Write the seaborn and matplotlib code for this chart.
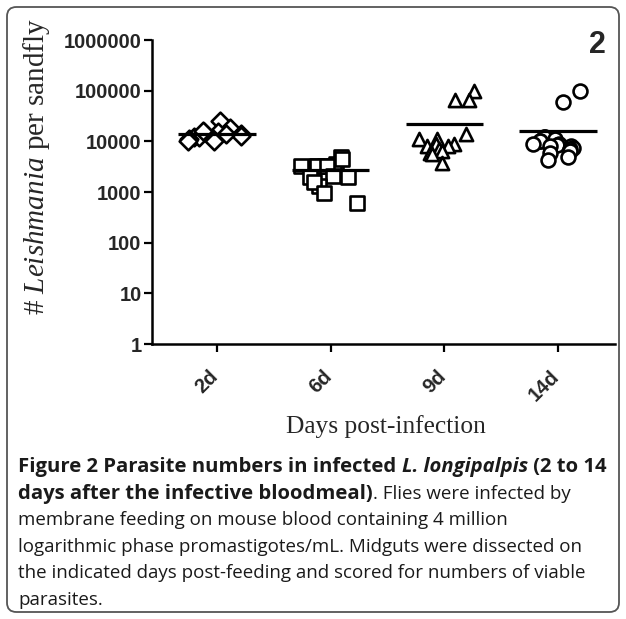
import numpy as np
import pandas as pd
import matplotlib
matplotlib.use("Agg")
import matplotlib.pyplot as plt
import matplotlib.transforms as mtransforms
import seaborn as sns
from matplotlib.patches import FancyBboxPatch

# ---- data ----
days = ["2d", "6d", "9d", "14d"]
d2 = [25000, 18000, 15000, 15000, 14000, 13000, 12000, 12000, 11000, 11000, 10000, 10000, 14000, 16000]
d6 = [5000, 3500, 3300, 3200, 3300, 3200, 3300, 4500, 3200, 2000, 2100, 2000, 1300, 1600, 950, 600]
d9 = [100000, 65000, 65000, 14000, 11000, 11000, 9000, 8000, 9000, 8000, 7000, 6500, 6000, 5500, 3800]
d14 = [100000, 60000, 12000, 12000, 11000, 10000, 10000, 9000, 9000, 8500, 8000, 8000, 7500, 7000,
       6500, 6000, 5000, 4200]
groups = [d2, d6, d9, d14]
markers = ["D", "s", "^", "o"]
yticks = [1, 10, 100, 1000, 10000, 100000, 1000000]
ytick_labels = ["1", "10", "100", "1000", "10000", "100000", "1000000"]

df = pd.concat([pd.DataFrame({"day": d, "count": g}) for d, g in zip(days, groups)], ignore_index=True)

sns.set_theme(style="white")
plt.rcParams["mathtext.fontset"] = "custom"
plt.rcParams["mathtext.rm"] = "Liberation Serif"
plt.rcParams["mathtext.it"] = "Liberation Serif:italic"

W, H = 626, 619
fig = plt.figure(figsize=(W / 100, H / 100), dpi=100)
ax = fig.add_axes([152 / W, 1 - 344 / H, (615 - 152) / W, (344 - 40) / H])
ax.set_yscale("log")

np.random.seed(3)
sizes = {"D": 9.0, "s": 9.5, "^": 9.5, "o": 10.0}
for d, m in zip(days, markers):
    sns.stripplot(data=df[df["day"] == d], x="day", y="count", order=days, ax=ax,
                  marker=m, size=sizes[m], jitter=0.27, color="white",
                  edgecolor="black", linewidth=1.9)

means = df.groupby("day", sort=False)["count"].mean().reindex(days)
for i, mv in enumerate(means.values):
    ax.hlines(mv, i - 0.34, i + 0.34, color="black", lw=2.3, zorder=5)

ax.set_xlim(-0.57, 3.5)
ax.set_ylim(1, 1000000)
ax.set_yticks(yticks)
ax.set_yticklabels(ytick_labels)
ax.yaxis.set_minor_locator(matplotlib.ticker.NullLocator())
for sp in ["top", "right"]:
    ax.spines[sp].set_visible(False)
for sp in ["left", "bottom"]:
    ax.spines[sp].set_color("black")
    ax.spines[sp].set_linewidth(1.8)
ax.tick_params(axis="both", which="major", direction="out", length=5.5, width=1.6,
               color="black", left=True, bottom=True)
ax.tick_params(axis="y", pad=2)
ax.tick_params(axis="x", pad=11)
for lab in ax.get_yticklabels():
    lab.set_fontfamily("Liberation Sans")
    lab.set_fontweight("bold")
    lab.set_fontsize(14.5)
offset = mtransforms.ScaledTranslation(5 / 100, 0, fig.dpi_scale_trans)
for lab in ax.get_xticklabels():
    lab.set_fontfamily("Liberation Sans")
    lab.set_fontweight("bold")
    lab.set_fontsize(14.5)
    lab.set_rotation(45)
    lab.set_ha("right")
    lab.set_va("top")
    lab.set_rotation_mode("default")
    lab.set_transform(lab.get_transform() + offset)

ax.set_xlabel("Days post-infection", fontfamily="Liberation Serif", fontsize=18.3)
ax.set_ylabel(r"# $\mathit{Leishmania}$ per sandfly", fontfamily="Liberation Serif", fontsize=21)
ax.yaxis.set_label_coords(-0.215, 0.584)
ax.xaxis.set_label_coords(0.505, -0.235)

fig.text(606 / W, 1 - 45 / H, "2", fontfamily="Liberation Sans", fontweight="bold",
         fontsize=22, ha="right", va="center")

# border
box = FancyBboxPatch((7 / W, 7 / H), (619 - 7) / W, (612 - 7) / H,
                     boxstyle="round,pad=0,rounding_size=0.015", transform=fig.transFigure,
                     fill=False, edgecolor="#555555", lw=1.3)
fig.patches.append(box)

# caption
cap_lines = [
    [("Figure 2 Parasite numbers in infected ", "bold", "normal"), ("L. longipalpis", "bold", "italic"),
     (" (2 to 14", "bold", "normal")],
    [("days after the infective bloodmeal)", "bold", "normal"), (". Flies were infected by", "normal", "normal")],
    [("membrane feeding on mouse blood containing 4 million", "normal", "normal")],
    [("logarithmic phase promastigotes/mL. Midguts were dissected on", "normal", "normal")],
    [("the indicated days post-feeding and scored for numbers of viable", "normal", "normal")],
    [("parasites.", "normal", "normal")],
]
fig.canvas.draw()
renderer = fig.canvas.get_renderer()
y0 = 467
for li, line in enumerate(cap_lines):
    x = 18
    y = y0 + li * 26.6
    for txt, wt, st in line:
        fs = 14.6 if wt == "bold" else 13.5
        t = fig.text(x / W, 1 - y / H, txt, fontfamily="Open Sans", fontweight=wt, fontstyle=st,
                     fontsize=fs, ha="left", va="center", color="#1a1a1a")
        bb = t.get_window_extent(renderer)
        x += bb.width

fig.savefig("out.png", dpi=100)
